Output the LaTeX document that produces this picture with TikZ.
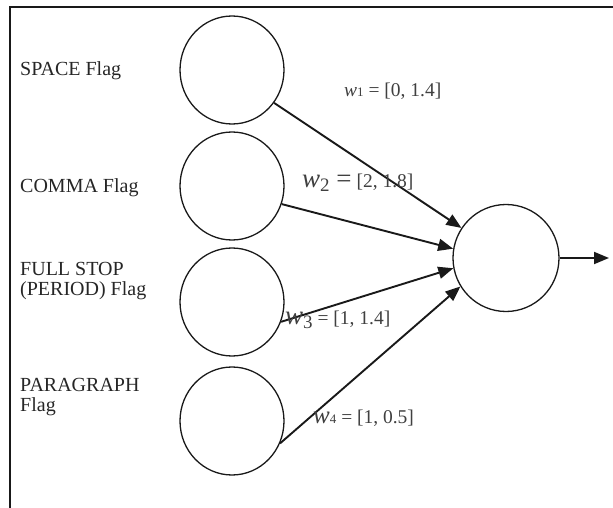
\documentclass[tikz,border=0pt]{standalone}
\usepackage{fontspec}
\setmainfont{Liberation Serif}
\usetikzlibrary{arrows.meta,shapes.geometric}
\begin{document}
\begin{tikzpicture}[x=1pt,y=-1pt,
  neuron/.style={draw=black!90,line width=1.3pt,ellipse,minimum width=104pt,minimum height=108pt,inner sep=0pt},
  outn/.style={draw=black!90,line width=1.3pt,ellipse,minimum width=106pt,minimum height=107pt,inner sep=0pt},
  conn/.style={line width=1.9pt,draw=black!90,-{Triangle[length=15pt,width=12pt]}},
  lbl/.style={anchor=base west,inner sep=0pt,font=\fontsize{20}{23}\selectfont,text=black!85},
  wl/.style={anchor=base west,inner sep=0pt,font=\fontsize{19.5}{22}\selectfont,text=black!75}]
\useasboundingbox (0,0) rectangle (613,508);
\draw[line width=1.5pt,black!90] (10,508) -- (10,7) -- (613,7);
\node[neuron] (i1) at (232,70) {};
\node[neuron] (i2) at (232,186) {};
\node[neuron] (i3) at (232,302) {};
\node[neuron] (i4) at (232,421) {};
\node[outn] (o) at (506,258) {};
\coordinate (out) at (609,258);
\draw[conn] (i1.-38) -- (o.146);
\draw[conn] (i2.-20) -- (o.170);
\draw[conn] (i3.-22) -- (o.191);
\draw[conn] (i4.-25) -- (o.212);
\draw[conn] (o.east) -- (out);
\node[lbl] (t1) at (20,76) {SPACE Flag};
\node[lbl] (t2) at (20,193) {COMMA Flag};
\node[lbl] (t3) at (20,275) {FULL STOP};
\node[lbl] (t3b) at (20,295) {(PERIOD) Flag};
\node[lbl] (t4) at (20,391) {PARAGRAPH};
\node[lbl] (t4b) at (20,411) {Flag};
\node[wl] (w1) at (344,97) {\textit{w}{\fontsize{13}{14}\selectfont 1} = [0, 1.4]};
\node[wl] (w2) at (302,187) {{\fontsize{27}{29}\selectfont\textit{w}\raisebox{-4pt}{\fontsize{19}{20}\selectfont 2} =} [2, 1.8]};
\node[wl] (w3) at (285,324) {{\fontsize{27}{29}\selectfont\textit{w}\raisebox{-4pt}{\fontsize{19}{20}\selectfont 3}} = [1, 1.4]};
\node[wl] (w4) at (313,423) {{\fontsize{25}{27}\selectfont\textit{w}}{\fontsize{13}{14}\selectfont 4} = [1, 0.5]};
\end{tikzpicture}
\end{document}
